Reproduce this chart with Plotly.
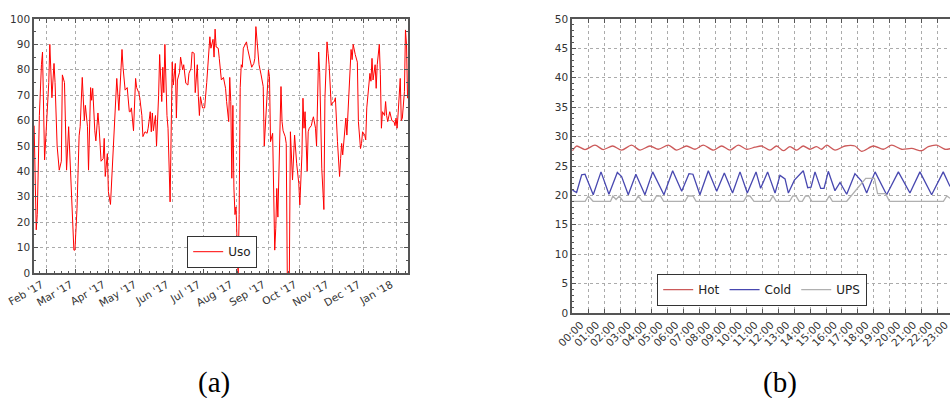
import plotly.graph_objects as go
import pandas as pd

W, H = 950, 398

# ---------------- (a) daily usage ----------------
uso_start = "2017-01-20"
uso_day = [0, 2, 3, 5, 7, 8, 10, 11, 12, 14, 15, 17, 19, 20, 22, 24, 26, 27, 29, 31,
           33, 35, 37, 38, 39, 41, 43, 44, 46, 47, 48, 49, 51, 52, 54, 55, 56, 58, 59, 61,
           62, 64, 66, 67, 68, 70, 71, 73, 75, 76, 78, 79, 81, 82, 84, 85, 87, 89, 91,
           92, 93, 95, 97, 98, 100, 101, 103, 104, 106, 108, 109, 111, 112, 113, 114, 116, 117, 119, 120,
           122, 123, 124, 125, 127, 128, 130, 131, 132, 133, 135, 136, 137, 139, 140, 142, 143, 145, 147, 148,
           150, 151, 153, 154, 156, 157, 158, 159, 161, 162, 163, 165, 167, 168, 169, 171, 172, 173, 174, 176, 177,
           178, 179, 181, 183, 184, 186, 187, 188, 189, 190, 191, 192, 193, 195, 196, 197, 198, 199, 200,
           202, 203, 204, 205, 207, 208, 210, 211, 212, 214, 215, 217, 219, 220, 222, 223, 224, 225, 226, 228,
           229, 230, 231, 232, 233, 234, 236, 237, 238, 240, 241, 242, 244, 245, 246, 247, 249, 250, 251, 253,
           254, 256, 257, 258, 259, 261, 262, 263, 265, 266, 267, 269, 270,
           272, 273, 275, 277, 278, 280, 281, 282, 284, 285, 287, 288, 290, 292, 293, 294, 295, 297, 298, 299,
           301, 302, 303, 304, 305, 307, 308, 309, 310, 312, 313, 314, 316, 317, 318, 319, 321, 322, 323, 324,
           326, 327, 328, 330, 331, 332, 333, 335, 336, 337, 338, 340, 341, 342, 344, 345, 346, 347, 348, 350,
           351, 352, 354, 355, 356, 357]
uso_val = [58, 17, 23, 62, 82, 87, 44.5, 53, 57, 75, 90, 69, 82.5, 75, 50, 40.5, 44, 78, 75, 40.5,
           57.6, 40, 23, 9, 9, 25.5, 54, 57.6, 77, 67.5, 60, 66, 57.6, 40.5, 73, 68, 72.7, 56, 52, 63,
           58, 44, 45, 53, 38, 47, 32, 27, 44, 53, 68, 76.6, 64, 72, 88, 81, 72, 73, 63.5,
           63.5, 65, 56, 76.6, 73, 71, 69, 62, 53.7, 55.6, 55, 57, 63.5, 55.6, 63, 56, 62, 50, 70, 86,
           67.5, 81, 71, 90, 62, 57, 28, 63.5, 83, 74, 82.5, 61, 76, 79, 85, 80, 82, 74.7, 74, 78.6,
           80.6, 87, 86.5, 71, 82, 69.4, 62, 69.4, 65, 65, 65, 75, 90, 93, 88.5, 92, 85, 96, 89, 88.5, 84.5,
           78, 76, 77, 72.7, 67.5, 59.6, 77, 67.5, 37.3, 66, 33.5, 23, 26, 0, 23, 73, 82, 81, 88.5,
           90, 91, 88.5, 86.5, 82, 81, 82.5, 84.5, 97, 85, 82, 78, 73.4, 50, 67.5, 74.7, 80, 77.3, 51.7, 55,
           30.7, 9, 17.6, 33.3, 22, 44, 73.4, 59.6, 56, 53.7, 51, 0, 0, 55.6, 47, 36.6, 54.3, 47.8, 43, 35.3,
           26.8, 46.5, 68.8, 57, 63.5, 40, 55.6, 57, 58, 60, 61.5, 57, 50,
           87, 79, 41, 25, 68.8, 91, 86.5, 82, 66, 67, 67.5, 69, 51.7, 38, 45, 51, 46.5, 54.3, 61, 54.3,
           68.8, 80.6, 88, 84, 90, 86, 84.5, 83, 59.6, 49, 51, 55.6, 54.3, 52.4, 65, 70, 78.6, 75.5, 84.5, 76,
           82, 72.7, 82, 90, 78, 57, 63.5, 62, 67.5, 62, 59.6, 63.5, 62, 60, 59.6, 58, 61, 57, 63, 76.6,
           60, 61, 71.4, 95.7, 90, 68.8]

# ---------------- (b) temperatures over a day ----------------
hour_labels = ["%02d:00" % h for h in range(24)]

hot_h = [0.0, 0.26, 0.79, 1.42, 1.94, 2.53, 3.1, 3.73, 4.26, 4.89, 5.41, 6.05, 6.57, 7.2, 7.73,
         8.25, 8.89, 9.41, 9.94, 10.46, 10.99, 11.51, 11.93, 12.46, 12.88, 13.3, 13.72, 14.14,
         14.56, 14.98, 15.4, 15.72, 16.04, 16.56, 17.19, 17.82, 18.24, 18.98, 19.61, 20.14, 20.77,
         21.4, 22.03, 22.45, 22.98, 23.5, 23.92]
hot_v = [27.6, 28.4, 27.8, 28.55, 27.8, 28.4, 27.7, 28.55, 27.7, 28.4, 27.85, 28.55, 27.7, 28.4, 27.85,
         28.55, 27.7, 28.4, 27.7, 28.55, 27.85, 28.2, 28.4, 27.7, 28.4, 27.6, 28.3, 27.7,
         28.4, 27.85, 28.3, 27.85, 28.55, 27.7, 28.4, 28.4, 27.5, 28.4, 27.85, 28.55, 27.85,
         28.0, 27.6, 28.3, 28.55, 27.85, 28.0]

cold_h = [0.0, 0.26, 0.58, 0.79, 1.31, 1.8, 2.3, 2.83, 3.1, 3.52, 4.0, 4.57, 5.06, 5.77, 6.32,
          6.89, 7.35, 7.6, 8.04, 8.57, 9.1, 9.58, 10.1, 10.57, 11.03, 11.58, 11.87, 12.31, 12.78,
          13.09, 13.41, 13.62, 14.0, 14.56, 14.84, 15.05, 15.3, 15.66, 15.87, 16.14, 16.56, 16.88,
          17.3, 17.82, 18.25, 18.56, 19.09, 19.82, 20.56, 21.29, 21.92, 22.66, 23.39, 23.82]
cold_v = [20.9, 20.5, 23.5, 23.6, 20.1, 24.0, 20.2, 23.9, 23.2, 20.1, 23.6, 20.1, 24.0, 20.1, 24.2,
          20.7, 23.7, 23.6, 20.1, 24.2, 20.7, 23.8, 20.4, 24.0, 20.4, 24.0, 21.2, 24.0, 20.4,
          23.4, 22.8, 20.4, 22.6, 24.2, 21.3, 21.4, 24.0, 21.2, 21.2, 24.1, 20.8, 22.2,
          20.2, 23.7, 22.4, 20.4, 24.0, 20.1, 24.0, 20.4, 24.0, 20.1, 24.0, 21.5]

ups_h = [0.0, 0.8, 1.0, 1.3, 2.4, 2.55, 2.75, 2.95, 3.2, 3.95, 4.15, 4.4, 5.1, 5.3, 5.55, 5.75,
         7.1, 7.3, 7.6, 7.8, 10.8, 11.0, 11.2, 11.45, 12.45, 12.65, 12.85, 13.7, 13.9, 14.1, 14.3,
         14.5, 14.7, 14.9, 15.1, 16.0, 16.2, 16.4, 17.3, 18.5, 19.05, 19.25, 19.75, 20.0, 23.4,
         23.62, 23.82]
ups_v = [19.0, 19.0, 19.9, 19.0, 19.0, 19.9, 19.3, 19.9, 19.0, 19.0, 19.9, 19.0, 19.0, 19.9, 19.9, 19.0,
         19.0, 19.9, 19.9, 19.0, 19.0, 19.9, 19.9, 19.0, 19.0, 19.9, 19.0, 19.0, 19.9, 19.9, 19.0,
         19.0, 19.9, 19.9, 19.0, 19.0, 19.9, 19.0, 19.0, 22.9, 22.9, 20.3, 20.3, 19.0, 19.0,
         19.9, 19.5]

# ---------------- figure ----------------
uso_dates = pd.Timestamp(uso_start) + pd.to_timedelta(uso_day, unit="D")

fig = go.Figure()
fig.add_trace(go.Scatter(x=uso_dates, y=uso_val, mode="lines", name="Uso",
                         line=dict(color="#ff0000", width=1), xaxis="x", yaxis="y",
                         legend="legend"))
fig.add_trace(go.Scatter(x=hot_h, y=hot_v, mode="lines", name="Hot",
                         line=dict(color="#cc5a5a", width=1.3, shape="spline", smoothing=0.8),
                         xaxis="x2", yaxis="y2", legend="legend2"))
fig.add_trace(go.Scatter(x=cold_h, y=cold_v, mode="lines", name="Cold",
                         line=dict(color="#4848b0", width=1.3),
                         xaxis="x2", yaxis="y2", legend="legend2"))
fig.add_trace(go.Scatter(x=ups_h, y=ups_v, mode="lines", name="UPS",
                         line=dict(color="#b0b0b0", width=1.3),
                         xaxis="x2", yaxis="y2", legend="legend2"))

tickfont = dict(family="DejaVu Sans", size=10.5, color="#333333")
frame = dict(showline=True, linecolor="#555555", linewidth=1.6, ticks="inside",
             tickcolor="#555555", zeroline=False, showgrid=True, gridcolor="#ababab",
             griddash="dot", gridwidth=0.8, tickfont=tickfont, automargin=False)

fig.update_layout(
    template="none",
    width=W, height=H, margin=dict(l=0, r=0, t=0, b=0, pad=0),
    paper_bgcolor="white", plot_bgcolor="white",
    font=dict(family="DejaVu Sans", size=10.5, color="#333333"),
    xaxis=dict(domain=[34 / W, 408 / W], type="date",
               range=["2017-01-19 21:00", "2018-01-12 10:00"],
               tick0="2017-02-01", dtick="M1", tickformat="%b '%y", tickangle=-30,
               ticklabelshift=-5, ticklen=4, mirror="allticks",
               minor=dict(dtick=7 * 86400000, tick0="2017-02-01", ticks="inside",
                          ticklen=2, tickcolor="#555555", showgrid=False),
               **frame),
    yaxis=dict(domain=[1 - 273 / H, 1 - 19 / H], range=[0, 100], dtick=10,
               ticklen=4, mirror="allticks",
               minor=dict(dtick=5, ticks="inside", ticklen=2, tickcolor="#555555",
                          showgrid=False),
               **frame),
    xaxis2=dict(domain=[572 / W, 1.0], anchor="y2",
                range=[-0.03, (950 - 572.5) / 15.85],
                tickvals=list(range(24)), ticktext=hour_labels, tickangle=-45,
                ticklabelshift=8, ticklabeloverflow="allow", ticklen=4, mirror="ticks",
                **frame),
    yaxis2=dict(domain=[1 - 313 / H, 1 - 19 / H], anchor="x2", range=[0, 50], dtick=5,
                ticklen=4, mirror=False,
                minor=dict(dtick=1, ticks="inside", ticklen=2, tickcolor="#555555",
                           showgrid=False),
                **frame),
    legend=dict(x=222 / W, y=1 - 268 / H, xanchor="center", yanchor="bottom",
                bgcolor="white", bordercolor="#333333", borderwidth=1.2,
                font=dict(family="DejaVu Sans", size=12, color="#222222")),
    legend2=dict(x=762 / W, y=1 - 306 / H, xanchor="center", yanchor="bottom",
                 orientation="h", bgcolor="white", bordercolor="#333333", borderwidth=1.2,
                 font=dict(family="DejaVu Sans", size=12, color="#222222"),
                 tracegroupgap=0),
    annotations=[
        dict(text="(a)", x=214 / W, y=1 - 382 / H, xref="paper", yref="paper",
             xanchor="center", yanchor="middle", showarrow=False,
             font=dict(family="Liberation Serif", size=29, color="black")),
        dict(text="(b)", x=780 / W, y=1 - 382 / H, xref="paper", yref="paper",
             xanchor="center", yanchor="middle", showarrow=False,
             font=dict(family="Liberation Serif", size=29, color="black")),
    ],
    showlegend=True,
)

fig.write_html("out.html", config={"displayModeBar": False},
               post_script="document.body.style.margin='0';")
